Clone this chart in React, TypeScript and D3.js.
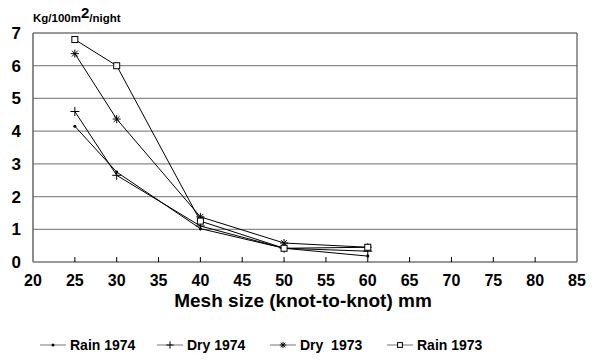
import React, { useEffect, useRef } from 'react';
import * as d3 from 'd3';

const meshSizes = [25, 30, 40, 50, 60];
const rain1974 = [4.15, 2.75, 1.02, 0.42, 0.18];
const dry1974 = [4.6, 2.65, 1.1, 0.42, 0.33];
const dry1973 = [6.37, 4.37, 1.38, 0.58, 0.45];
const rain1973 = [6.8, 6.0, 1.25, 0.42, 0.45];
const xTicks = [20, 25, 30, 35, 40, 45, 50, 55, 60, 65, 70, 75, 80, 85];
const yTicks = [0, 1, 2, 3, 4, 5, 6, 7];

const seriesList = [
  { name: 'Rain 1974', values: rain1974, marker: 'dot' },
  { name: 'Dry 1974', values: dry1974, marker: 'plus' },
  { name: 'Dry\u00a0\u00a01973', values: dry1973, marker: 'star' },
  { name: 'Rain 1973', values: rain1973, marker: 'square' },
];

const legendX = [40, 157, 270, 387];
const font = 'Arial, "Liberation Sans", sans-serif';

const drawMarker = (g: any, kind: string, cx: number, cy: number, s = 1) => {
  if (kind === 'dot') {
    g.append('circle').attr('cx', cx).attr('cy', cy).attr('r', 1.5).attr('fill', '#000');
  } else if (kind === 'plus') {
    const r = 4.5 * s;
    g.append('path')
      .attr('d', `M${cx - r},${cy}H${cx + r}M${cx},${cy - r}V${cy + r}`)
      .attr('stroke', '#000').attr('stroke-width', 1);
  } else if (kind === 'star') {
    const r = 4 * s;
    const d2 = r * 0.72;
    g.append('path')
      .attr('d', `M${cx - r},${cy}H${cx + r}M${cx},${cy - r}V${cy + r}M${cx - d2},${cy - d2}L${cx + d2},${cy + d2}M${cx - d2},${cy + d2}L${cx + d2},${cy - d2}`)
      .attr('stroke', '#000').attr('stroke-width', 1);
  } else {
    const h = 3 * s;
    g.append('rect')
      .attr('x', cx - h).attr('y', cy - h).attr('width', 2 * h).attr('height', 2 * h)
      .attr('fill', '#fff').attr('stroke', '#000').attr('stroke-width', 1);
  }
};

const App = () => {
  const svgRef = useRef<SVGSVGElement>(null);

  useEffect(() => {
    if (!svgRef.current) return;
    const svg = d3.select(svgRef.current);
    svg.selectAll('*').remove();

    const margin = { top: 33, right: 23, bottom: 98, left: 33 };
    const width = 600;
    const height = 360;

    const x = d3.scaleLinear().domain([20, 85]).range([margin.left, width - margin.right]);
    const y = d3.scaleLinear().domain([0, 7]).range([height - margin.bottom, margin.top]);

    // Gridlines
    svg.append('g')
      .selectAll('line')
      .data(yTicks.slice(1))
      .join('line')
      .attr('x1', x(20)).attr('x2', x(85))
      .attr('y1', d => y(d)).attr('y2', d => y(d))
      .attr('stroke', d => (d === 7 ? '#999' : '#8a8a8a'))
      .attr('stroke-width', d => (d === 7 ? 2 : 1.2));

    // Right border
    svg.append('line')
      .attr('x1', x(85)).attr('x2', x(85))
      .attr('y1', y(7)).attr('y2', y(0))
      .attr('stroke', '#555').attr('stroke-width', 1.2);

    // Left axis
    svg.append('line')
      .attr('x1', x(20)).attr('x2', x(20))
      .attr('y1', y(7)).attr('y2', y(0))
      .attr('stroke', '#666').attr('stroke-width', 1.5);

    // Bottom axis
    svg.append('line')
      .attr('x1', x(20)).attr('x2', x(85))
      .attr('y1', y(0)).attr('y2', y(0))
      .attr('stroke', '#777').attr('stroke-width', 1.5);

    // X ticks (inward)
    svg.append('g')
      .selectAll('line')
      .data(xTicks.slice(1, -1))
      .join('line')
      .attr('x1', d => x(d)).attr('x2', d => x(d))
      .attr('y1', y(0)).attr('y2', y(0) - 5)
      .attr('stroke', '#000').attr('stroke-width', 1);

    // Y tick labels
    svg.append('g')
      .selectAll('text')
      .data(yTicks)
      .join('text')
      .attr('x', 21)
      .attr('y', d => y(d) + 6)
      .attr('text-anchor', 'end')
      .attr('font-family', font)
      .attr('font-weight', 'bold')
      .attr('font-size', 17)
      .text(d => d);

    // X tick labels
    svg.append('g')
      .selectAll('text')
      .data(xTicks)
      .join('text')
      .attr('x', d => x(d))
      .attr('y', y(0) + 24)
      .attr('text-anchor', 'middle')
      .attr('font-family', font)
      .attr('font-weight', 'bold')
      .attr('font-size', 16)
      .text(d => d);

    // X title
    svg.append('text')
      .attr('x', 303)
      .attr('y', 307)
      .attr('text-anchor', 'middle')
      .attr('font-family', font)
      .attr('font-weight', 'bold')
      .attr('font-size', 19)
      .text('Mesh size (knot-to-knot) mm');

    // Y unit label
    const unit = svg.append('text')
      .attr('x', 33)
      .attr('y', 22)
      .attr('font-family', font)
      .attr('font-weight', 'bold')
      .attr('font-size', 11.5);
    unit.append('tspan').text('Kg/100m');
    unit.append('tspan').attr('font-size', 15).attr('dy', -4).text('2');
    unit.append('tspan').attr('dy', 4).text('/night');

    // Series
    const line = d3.line<number>()
      .x((_, i) => x(meshSizes[i]))
      .y(d => y(d));

    seriesList.forEach(s => {
      const g = svg.append('g');
      g.append('path')
        .attr('d', line(s.values))
        .attr('fill', 'none')
        .attr('stroke', '#000')
        .attr('stroke-width', 1);
      s.values.forEach((v, i) => drawMarker(g, s.marker, x(meshSizes[i]), y(v)));
    });

    // Legend
    const legend = svg.append('g');
    seriesList.forEach((s, i) => {
      const lx = legendX[i];
      const ly = 345;
      legend.append('line')
        .attr('x1', lx).attr('x2', lx + 26)
        .attr('y1', ly).attr('y2', ly)
        .attr('stroke', '#777').attr('stroke-width', 1);
      drawMarker(legend, s.marker, lx + 13, ly, 0.8);
      legend.append('text')
        .attr('x', lx + 30)
        .attr('y', ly + 5)
        .attr('font-family', font)
        .attr('font-weight', 'bold')
        .attr('font-size', 14)
        .text(s.name);
    });
  }, []);

  return (
    <svg
      ref={svgRef}
      width={600}
      height={360}
      style={{ position: 'absolute', left: 0, top: 0, background: '#fff' }}
    />
  );
};

export default App;
